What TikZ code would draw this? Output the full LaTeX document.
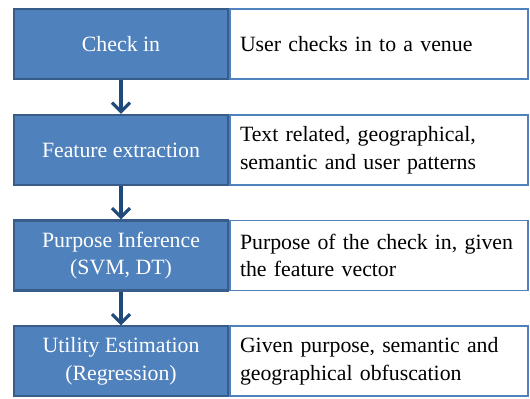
\documentclass[tikz,border=0pt]{standalone}
\usepackage{fontspec}
\setmainfont{Liberation Serif}
\usetikzlibrary{arrows.meta, positioning}
\definecolor{stepBlue}{HTML}{4F81BD}
\definecolor{stepEdge}{HTML}{385D8A}
\definecolor{arrowBlue}{HTML}{1F4A7A}

\tikzset{
    stagebox/.style={draw=stepEdge, line width=1.1pt, fill=stepBlue, text=white,
        minimum width=107pt, minimum height=35pt, align=center, inner sep=2pt},
    notebox/.style={draw=stepBlue, line width=0.9pt, fill=white, text=black,
        minimum width=149pt, minimum height=35pt, text width=139pt, align=left,
        inner xsep=5pt, inner ysep=3pt},
    flowarrow/.style={-{Straight Barb[length=4.5pt, width=9pt]}, line width=1.6pt, arrowBlue}
}

\begin{document}
\begin{tikzpicture}[font=\fontsize{10.9}{13.8}\selectfont]
    \useasboundingbox (0,0) rectangle (265pt,-199.5pt);

    \node[notebox] (checkNote)   at (189.5pt,-22pt)    {User checks in to a venue};
    \node[notebox] (featureNote) at (189.5pt,-75pt)    {Text related, geographical,\\semantic and user patterns};
    \node[notebox] (purposeNote) at (189.5pt,-127.8pt) {Purpose of the check in, given\\the feature vector};
    \node[notebox] (utilityNote) at (189.5pt,-180.7pt) {Given purpose, semantic and\\geographical obfuscation};

    \node[stagebox, left=0pt of checkNote]   (check)   {Check in};
    \node[stagebox, left=0pt of featureNote] (feature) {Feature extraction};
    \node[stagebox, left=0pt of purposeNote] (purpose) {Purpose Inference\\(SVM, DT)};
    \node[stagebox, left=0pt of utilityNote] (utility) {Utility Estimation\\(Regression)};

    \draw[flowarrow] (check) -- (feature);
    \draw[flowarrow] (feature) -- (purpose);
    \draw[flowarrow] (purpose) -- (utility);
\end{tikzpicture}
\end{document}
